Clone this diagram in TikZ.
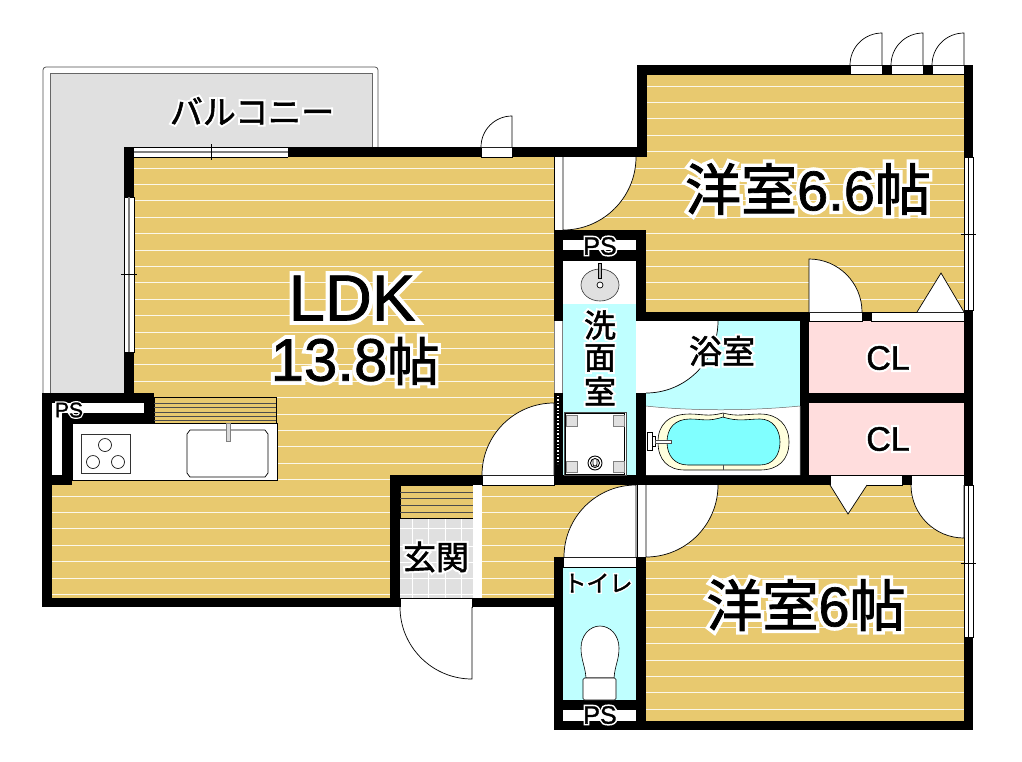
\documentclass[tikz,border=0pt]{standalone}
\usepackage{fontspec}
\setmainfont[FakeBold=1.2]{Liberation Sans}
\newfontfamily\jaf[FakeBold=1.6]{Noto Sans CJK JP}
\newfontfamily\jafhalo[FakeBold=14]{Noto Sans CJK JP}
\newfontfamily\enfhalo[FakeBold=14]{Liberation Sans}
\definecolor{floorcol}{HTML}{E8C96F}
\definecolor{watercol}{HTML}{BFFFFF}
\definecolor{closetcol}{HTML}{FFDDDD}
\definecolor{tilecol}{HTML}{E0E0E0}
\definecolor{tubcol}{HTML}{FFFFDD}
\definecolor{tubwater}{HTML}{80FFFF}
\newcommand{\halo}[1]{\leavevmode\rlap{\color{white}\let\jaf\jafhalo\enfhalo #1}#1}
\newcommand{\fs}[1]{\fontsize{#1}{#1}\selectfont}
\tikzset{
  hair/.style={draw=black,line width=0.6pt},
  opening/.style={fill=white,draw=black,line width=0.5pt},
  doorswing/.style={fill=white,draw=black,line width=0.7pt},
  roomlabel/.style={inner sep=0pt,text=black},
}
\begin{document}
\begin{tikzpicture}[x=1pt,y=-1pt]
\useasboundingbox (0,0) rectangle (1022,761);

\draw[draw=black!70,line width=0.7pt,rounded corners=3pt] (43,393) -- (43,67) -- (378,67) -- (378,147);
\filldraw[fill=tilecol,draw=black!60,line width=0.7pt] (50,393) -- (50,73) -- (372,73) -- (372,147) -- (124,147) -- (124,393) -- cycle;

\fill[floorcol] (134,157) rectangle (554,475);
\fill[floorcol] (52,475) rectangle (390,598);
\fill[floorcol] (482,485) rectangle (636,598);
\fill[floorcol] (563,157) rectangle (964,230);
\fill[floorcol] (646,75) rectangle (964,312);
\fill[floorcol] (646,485) rectangle (964,721);
\begin{scope}
\clip (134,157) rectangle (554,475) (52,475) rectangle (390,598) (482,485) rectangle (636,598)
  (563,157) rectangle (646,230) (646,75) rectangle (964,312) (646,485) rectangle (964,721);
\foreach \k in {0,...,39}
  \draw[white!85!floorcol,line width=1pt] (40,86+16.4*\k) -- (980,86+16.4*\k);
\end{scope}

\fill[white] (564,240) rectangle (636,250);
\fill[white] (563,261) rectangle (636,304);
\fill[watercol] (563,304) rectangle (636,475);
\fill[watercol] (646,321) rectangle (800,475);
\fill[closetcol] (809,321) rectangle (964,393);
\fill[closetcol] (809,403) rectangle (964,475);
\fill[watercol] (563,567) rectangle (636,700);
\fill[white] (563,710) rectangle (636,721);
\fill[white] (52,403) rectangle (144,413);
\fill[white] (52,403) rectangle (62,475);

\foreach \xa/\ya/\xb/\yb in {124/147/647/157,124/147/134/403,637/65/647/157,637/65/973/75,
  964/65/973/157,964/310/973/485,964/637/973/730,637/312/973/321,554/230/563/321,554/393/563/485,
  554/230/646/240,554/250/646/261,636/230/646/321,636/393/646/485,554/475/973/485,800/312/809/485,
  809/393/973/403,42/393/154/403,42/393/52/607,144/393/154/423,62/413/154/423,62/413/72/485,
  42/475/72/485,42/598/400/607,390/475/400/607,390/475/482/485,472/598/563/607,554/557/563/730,
  636/557/646/730,554/700/646/710,554/721/973/730}
  \fill[black] (\xa,\ya) rectangle (\xb,\yb);

\draw[opening] (482,475) rectangle (554,485);
\draw[opening] (400,598) rectangle (472,607);
\draw[opening] (563,557) rectangle (636,567);
\fill[white] (637,485) rectangle (646,557);
\draw[black,line width=0.5pt] (637,485) -- (637,557) (646,485) -- (646,557);
\fill[white] (554,157) rectangle (563,230);
\draw[black,line width=0.5pt] (554,157) -- (554,230);
\fill[white] (637,321) rectangle (646,393);
\fill[white] (554,321) rectangle (563,393);
\draw[black!50,line width=0.7pt] (554.5,321) -- (554.5,393) (562.5,321) -- (562.5,393);
\draw[opening] (809,312) rectangle (862,321);
\draw[opening] (871,312) rectangle (964,321);
\draw[opening] (830,475) rectangle (902,485);
\draw[opening] (911,475) rectangle (964,485);
\draw[opening] (481,147) rectangle (512,157);
\foreach \xa in {850,891,932}
  \draw[opening] (\xa,65) rectangle (\xa+32,74);
\draw[white,line width=1.4pt,dotted] (558,396) -- (558,464);

\fill[white] (134,147) rectangle (288,157);
\draw[black,line width=0.6pt] (134,147) -- (288,147) (134,157) -- (288,157) (288,147) -- (288,157);
\draw[black!50,line width=1.2pt] (134,152) -- (288,152);
\draw[black,line width=0.6pt] (211,144) -- (211,160);
\fill[white] (124,197) rectangle (134,352);
\draw[black,line width=0.6pt] (124,197) rectangle (134,352);
\draw[black!50,line width=1.2pt] (129,197) -- (129,352);
\draw[black,line width=0.6pt] (121,274) -- (137,274);
\foreach \ya/\yb/\yc in {157/310/234,485/637/563}{
  \fill[white] (964,\ya) rectangle (973,\yb);
  \draw[black,line width=0.6pt] (964,\ya) rectangle (973,\yb);
  \draw[black,line width=0.6pt] (968.5,\ya) -- (968.5,\yb);
  \draw[black,line width=0.6pt] (961,\yc) -- (976,\yc);
}

\foreach \cx in {882,923,964}
  \filldraw[doorswing] (\cx-32,65) arc[start angle=180,end angle=270,radius=32] -- (\cx,65);
\filldraw[doorswing] (481,147) arc[start angle=180,end angle=270,radius=31] -- (512,147);
\filldraw[doorswing] (636,157) arc[start angle=0,end angle=90,radius=73] -- (563,157);
\filldraw[doorswing] (862,312) arc[start angle=0,end angle=-90,radius=53] -- (809,312);
\fill[white] (646,321) -- (718,321) arc[start angle=0,end angle=90,radius=72] -- cycle;
\draw[black,line width=0.7pt] (718,321) arc[start angle=0,end angle=90,radius=72];
\filldraw[doorswing] (482,475) arc[start angle=180,end angle=270,radius=72] -- (554,475);
\filldraw[doorswing] (400,607) arc[start angle=180,end angle=90,radius=72] -- (472,607);
\filldraw[doorswing] (564,557) arc[start angle=180,end angle=270,radius=72] -- (636,557);
\filldraw[doorswing] (718,485) arc[start angle=0,end angle=90,radius=72] -- (646,485);
\filldraw[doorswing] (911,485) arc[start angle=180,end angle=90,radius=53] -- (964,485);
\filldraw[doorswing] (917,312) -- (941,273) -- (964,312);
\filldraw[doorswing] (830,485) -- (848,514) -- (867,485);

\filldraw[fill=floorcol,hair] (154,397) rectangle (276,423);
\foreach \k in {403,407.5,412,416,420}
  \draw[black!70,line width=0.5pt] (154,\k) -- (276,\k);
\filldraw[fill=white,hair] (72,423) rectangle (277,480);
\draw[black!80,line width=0.7pt] (81,434) rectangle (130,473);
\foreach \cx/\cy in {105/445,93/462,118/462}
  \draw[black!90,line width=0.7pt] (\cx,\cy) circle (6.5);
\draw[black,line width=0.7pt] (190,430) -- (265,430) -- (268,434) -- (268,473) -- (265,477) -- (190,477) -- (187,473) -- (187,434) -- cycle;
\filldraw[fill=black!15,draw=black!50,line width=0.5pt] (226,423) rectangle (230,441);

\fill[tilecol] (400,518) rectangle (473,598);
\foreach \k in {412,428,445,461}
  \draw[white,line width=0.8pt] (\k,518) -- (\k,598);
\foreach \k in {528,546,562,578,594}
  \draw[white,line width=0.8pt] (400,\k) -- (473,\k);
\filldraw[fill=floorcol,hair] (400,485) rectangle (473,518);
\foreach \k in {492,498,505,512}
  \draw[black!70,line width=0.5pt] (400,\k) -- (473,\k);
\fill[white] (473,485) rectangle (482,598);

\filldraw[fill=tilecol,draw=black!80,line width=0.6pt] (600,285) ellipse (19 and 16);
\draw[black,line width=0.7pt,fill=white] (600,285) circle (3);
\filldraw[fill=black!30,hair,line width=0.4pt] (598.5,263) rectangle (601.5,278);

\filldraw[fill=white,draw=black!70,line width=0.6pt] (564,412) rectangle (626,475);
\draw[black,line width=0.6pt] (565.5,413.5) rectangle (624.5,474);
\foreach \cx/\cy in {566/415,613/415,566/461,613/461}
  \filldraw[fill=tilecol,draw=black!50,line width=0.4pt] (\cx,\cy) rectangle (\cx+11,\cy+11);
\draw[black,line width=0.9pt] (595,463) circle (7) (595,463) circle (4.5);
\draw[black,line width=0.7pt] (593,460) -- (593,464) arc[start angle=180,end angle=0,radius=2] -- (597,460);

\fill[white] (646,406) .. controls (690,411) and (750,411) .. (800,406) -- (800,475) -- (646,475) -- cycle;
\draw[black!60,line width=0.5pt] (646,406) .. controls (690,411) and (750,411) .. (800,406) (800,406) -- (800,475);
\filldraw[fill=tubcol,hair] (658,442) .. controls (658,425) and (668,414) .. (690,414) .. controls (702,414) and (708,417) .. (723,413) .. controls (738,417) and (745,414) .. (760,414) .. controls (778,414) and (789,425) .. (789,442) .. controls (789,460) and (778,470) .. (760,470) -- (685,470) .. controls (668,470) and (658,460) .. (658,442) -- cycle;
\filldraw[fill=tubwater,draw=black,line width=0.6pt] (667,442) .. controls (667,428) and (675,419) .. (690,419) .. controls (702,419) and (708,422) .. (723,417) .. controls (738,422) and (748,419) .. (760,419) .. controls (773,419) and (780,430) .. (780,442) .. controls (780,455) and (773,465) .. (760,465) -- (688,465) .. controls (675,465) and (667,456) .. (667,442) -- cycle;
\draw[black!70,line width=0.5pt] (723,413) -- (723,418) (723,465) -- (723,470);
\filldraw[fill=white,draw=black,line width=0.5pt] (647,432) rectangle (652,450);
\filldraw[fill=white,draw=black,line width=0.5pt] (652,436) rectangle (655,446);
\filldraw[fill=white,draw=black!70,line width=0.5pt] (655,440) rectangle (671,443);

\filldraw[fill=white,hair] (586,678) .. controls (585,665) and (581,660) .. (581,648) .. controls (581,635) and (590,626) .. (600,626) .. controls (610,626) and (619,635) .. (619,648) .. controls (619,660) and (615,665) .. (614,678) -- cycle;
\filldraw[fill=white,hair,rounded corners=1.5pt] (583,678) rectangle (616,700);

\node[roomlabel] (balcony) at (252,111) {\fs{33}\halo{\jaf バルコニー}};
\node[roomlabel,align=center] (ldk) at (352,298) {\fs{65}\halo{LDK}};
\node[roomlabel] (ldkarea) at (355,361) {\fs{60}\halo{13.8{\fs{52}\jaf 帖}}};
\node[roomlabel] (roomone) at (808,189) {\fs{56}\halo{{\jaf 洋室}6.6{\jaf 帖}}};
\node[roomlabel] (roomtwo) at (806,605) {\fs{56}\halo{{\jaf 洋室}6{\jaf 帖}}};
\node[roomlabel] (bath) at (722,351) {\fs{33}\halo{\jaf 浴室}};
\node[roomlabel] (washa) at (600,325) {\fs{32}\halo{\jaf 洗}};
\node[roomlabel] (washb) at (600,358) {\fs{32}\halo{\jaf 面}};
\node[roomlabel] (washc) at (600,391) {\fs{32}\halo{\jaf 室}};
\node[roomlabel] (closeta) at (888,358) {\fs{34}\halo{CL}};
\node[roomlabel] (closetb) at (888,439) {\fs{34}\halo{CL}};
\node[roomlabel] (entry) at (436,557) {\fs{33}\halo{\jaf 玄関}};
\node[roomlabel] (toilet) at (598,583) {\fs{23}\halo{\jaf トイレ}};
\node[roomlabel] (psa) at (600,246) {\fs{25}\halo{PS}};
\node[roomlabel] (psb) at (69,410) {\fs{21}\halo{PS}};
\node[roomlabel] (psc) at (600,715) {\fs{25}\halo{PS}};
\end{tikzpicture}
\end{document}
